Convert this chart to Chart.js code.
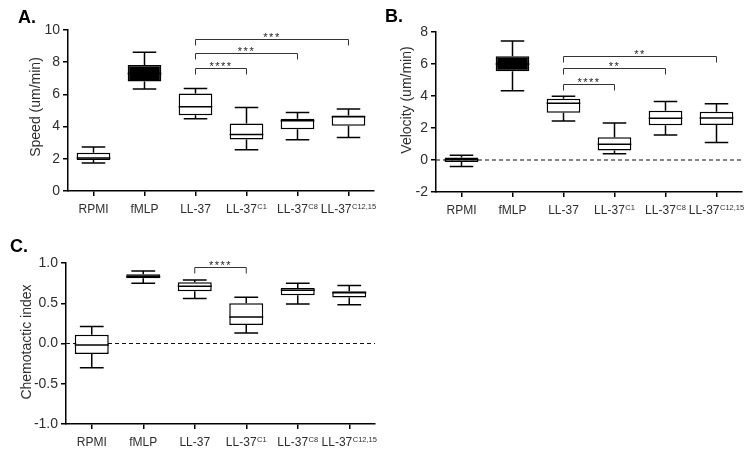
<!DOCTYPE html>
<html lang="en">
<head>
  <meta charset="UTF-8">
  <title>LL-37 chemotaxis box plots</title>
  <script src="https://cdn.jsdelivr.net/npm/chart.js@4.4.1/dist/chart.umd.min.js"></script>
  <style>
    * { margin: 0; padding: 0; }
    body { background: #fff; width: 754px; height: 454px; position: relative; overflow: hidden; }
    .panel { position: absolute; width: 377px; height: 227px; }
    #panelA { left: 0; top: 0; }
    #panelB { left: 377px; top: 0; }
    #panelC { left: 0; top: 227px; }
  </style>
</head>
<body>
  <div class="panel" id="panelA"><canvas id="speed" width="377" height="227"></canvas></div>
  <div class="panel" id="panelB"><canvas id="velocity" width="377" height="227"></canvas></div>
  <div class="panel" id="panelC"><canvas id="chemo" width="377" height="227"></canvas></div>

  <script>
    const FONT = '"Liberation Sans", Arial, sans-serif';
    const TEXT = '#2e2e2e';

    // groups on the x axis (base name + superscript)
    const groupNames = ['RPMI', 'fMLP', 'LL-37', 'LL-37', 'LL-37', 'LL-37'];
    const groupSup = ['', '', '', 'C1', 'C8', 'C12,15'];
    const categories = groupNames.map((n, i) => n + groupSup[i]);

    // A. speed (um/min)
    const speedMin = [1.74, 6.34, 4.48, 2.56, 3.18, 3.33];
    const speedQ1  = [1.92, 6.80, 4.71, 3.20, 3.84, 4.05];
    const speedMed = [2.05, 7.30, 5.23, 3.51, 4.36, 4.61];
    const speedQ3  = [2.38, 7.83, 6.05, 4.19, 4.48, 4.69];
    const speedMax = [2.73, 8.62, 6.36, 5.19, 4.88, 5.10];
    const speedSigTo = [3, 4, 5];
    const speedSigY = [7.67, 8.6, 9.42];
    const speedSigText = ['****', '***', '***'];

    // B. velocity (um/min)
    const velMin = [-0.40, 4.33, 2.44, 0.39, 1.57, 1.09];
    const velQ1  = [-0.13, 5.55, 2.96, 0.59, 2.17, 2.19];
    const velMed = [0.01, 6.00, 3.54, 0.99, 2.61, 2.63];
    const velQ3  = [0.16, 6.49, 3.83, 1.42, 3.08, 3.02];
    const velMax = [0.30, 7.44, 3.99, 2.32, 3.66, 3.52];
    const velSigTo = [3, 4, 5];
    const velSigY = [4.74, 5.72, 6.51];
    const velSigText = ['****', '**', '**'];

    // C. chemotactic index
    const ciMin = [-0.30, 0.75, 0.56, 0.13, 0.49, 0.48];
    const ciQ1  = [-0.13, 0.81, 0.65, 0.23, 0.60, 0.57];
    const ciMed = [-0.02, 0.83, 0.71, 0.33, 0.66, 0.63];
    const ciQ3  = [0.11, 0.86, 0.76, 0.50, 0.69, 0.65];
    const ciMax = [0.21, 0.90, 0.79, 0.575, 0.75, 0.72];
    const ciSigTo = [3];
    const ciSigY = [0.95];
    const ciSigText = ['****'];

    const SIG_FROM = 2; // all comparisons start at LL-37

    // whiskers, medians, brackets, dashed zero line, labels
    const boxExtras = {
      id: 'boxExtras',
      beforeDatasetsDraw(chart, args, o) {
        if (!o.zeroLine) return;
        const { ctx, chartArea: a } = chart;
        const py = chart.scales.y.getPixelForValue(0);
        ctx.save();
        ctx.strokeStyle = '#111';
        ctx.lineWidth = 1.2;
        ctx.setLineDash([4, 3]);
        ctx.beginPath();
        ctx.moveTo(a.left, py);
        ctx.lineTo(a.right, py);
        ctx.stroke();
        ctx.restore();
      },
      afterDatasetsDraw(chart, args, o) {
        const { ctx } = chart;
        const x = chart.scales.x, y = chart.scales.y;
        const meta = chart.getDatasetMeta(0);
        ctx.save();
        ctx.strokeStyle = '#000';
        ctx.lineWidth = 1.5;
        meta.data.forEach((bar, i) => {
          const cx = bar.x;
          const hw = bar.width / 2;
          const cap = bar.width * 0.35;
          const pMin = y.getPixelForValue(o.min[i]);
          const pMax = y.getPixelForValue(o.max[i]);
          const pQ1 = y.getPixelForValue(o.q1[i]);
          const pQ3 = y.getPixelForValue(o.q3[i]);
          const pMed = y.getPixelForValue(o.med[i]);
          ctx.beginPath();
          ctx.moveTo(cx, pQ3); ctx.lineTo(cx, pMax);
          ctx.moveTo(cx - cap, pMax); ctx.lineTo(cx + cap, pMax);
          ctx.moveTo(cx, pQ1); ctx.lineTo(cx, pMin);
          ctx.moveTo(cx - cap, pMin); ctx.lineTo(cx + cap, pMin);
          ctx.moveTo(cx - hw, pMed); ctx.lineTo(cx + hw, pMed);
          ctx.stroke();
        });

        // significance brackets
        ctx.lineWidth = 1;
        ctx.strokeStyle = '#333';
        ctx.fillStyle = '#222';
        ctx.font = '11px ' + FONT;
        ctx.textAlign = 'center';
        ctx.textBaseline = 'alphabetic';
        ctx.letterSpacing = '1.5px';
        o.sigTo.forEach((to, k) => {
          const x1 = x.getPixelForValue(SIG_FROM);
          const x2 = x.getPixelForValue(to);
          const py = Math.round(y.getPixelForValue(o.sigY[k])) + 0.5;
          ctx.beginPath();
          ctx.moveTo(x1, py + 6); ctx.lineTo(x1, py);
          ctx.lineTo(x2, py); ctx.lineTo(x2, py + 6);
          ctx.stroke();
          ctx.fillText(o.sigText[k], (x1 + x2) / 2, py + 1.5);
        });
        ctx.restore();
      },
      afterDraw(chart, args, o) {
        const { ctx, chartArea: a } = chart;
        const x = chart.scales.x;
        ctx.save();
        ctx.fillStyle = TEXT;
        ctx.textBaseline = 'alphabetic';
        ctx.textAlign = 'left';
        // x labels with superscripts
        categories.forEach((c, i) => {
          ctx.font = '12px ' + FONT;
          const wBase = ctx.measureText(groupNames[i]).width;
          ctx.font = '7.5px ' + FONT;
          const wSup = groupSup[i] ? ctx.measureText(groupSup[i]).width + 0.5 : 0;
          const left = x.getPixelForValue(i) - (wBase + wSup) / 2;
          const base = a.bottom + 22;
          ctx.font = '12px ' + FONT;
          ctx.fillText(groupNames[i], left, base);
          if (groupSup[i]) {
            ctx.font = '7.5px ' + FONT;
            ctx.fillText(groupSup[i], left + wBase + 0.5, base - 4.5);
          }
        });
        // y axis title
        ctx.save();
        ctx.translate(o.titleX, o.titleY);
        ctx.rotate(-Math.PI / 2);
        ctx.textAlign = 'center';
        ctx.textBaseline = 'middle';
        ctx.font = '14px ' + FONT;
        ctx.fillText(o.title, 0, 0);
        ctx.restore();
        // panel letter
        ctx.fillStyle = '#000';
        ctx.font = 'bold 18px ' + FONT;
        ctx.fillText(o.letter, o.letterX, o.letterY);
        ctx.restore();
      }
    };

    function makePanel(id, p) {
      return new Chart(document.getElementById(id), {
        type: 'bar',
        data: {
          labels: categories,
          datasets: [{
            data: p.q1.map((v, i) => [v, p.q3[i]]),
            backgroundColor: categories.map((c, i) => i === 1 ? '#000' : '#fff'),
            borderColor: '#000',
            borderWidth: 1.5,
            borderSkipped: false,
            barPercentage: 0.66,
            categoryPercentage: 1
          }]
        },
        options: {
          responsive: false,
          animation: false,
          layout: { padding: { left: 0, right: p.right, top: p.top, bottom: 0 } },
          plugins: {
            legend: { display: false },
            tooltip: { enabled: false },
            boxExtras: p
          },
          scales: {
            x: {
              offset: true,
              grid: { drawOnChartArea: false, offset: false, color: '#000', lineWidth: 1.5, tickLength: 5 },
              border: { color: '#000', width: 1.5 },
              ticks: { display: false },
              afterFit: (s) => { s.height = p.xHeight; }
            },
            y: {
              min: p.yMin,
              max: p.yMax,
              grid: { drawOnChartArea: false, color: '#000', lineWidth: 1.5, tickLength: 5 },
              border: { color: '#000', width: 1.5 },
              ticks: {
                stepSize: p.step,
                padding: 3,
                color: TEXT,
                font: { family: FONT, size: 14 },
                callback: p.fmt
              },
              afterFit: (s) => { s.width = p.axisX; }
            }
          }
        },
        plugins: [boxExtras]
      });
    }

    makePanel('speed', {
      min: speedMin, q1: speedQ1, med: speedMed, q3: speedQ3, max: speedMax,
      sigTo: speedSigTo, sigY: speedSigY, sigText: speedSigText,
      yMin: 0, yMax: 10, step: 2, fmt: (v) => v,
      zeroLine: false, title: 'Speed (um/min)', titleX: 36, titleY: 107,
      letter: 'A.', letterX: 18, letterY: 23,
      axisX: 68, right: 3, top: 30, xHeight: 36
    });

    makePanel('velocity', {
      min: velMin, q1: velQ1, med: velMed, q3: velQ3, max: velMax,
      sigTo: velSigTo, sigY: velSigY, sigText: velSigText,
      yMin: -2, yMax: 8, step: 2, fmt: (v) => v,
      zeroLine: true, title: 'Velocity (um/min)', titleX: 30, titleY: 100,
      letter: 'B.', letterX: 8, letterY: 22,
      axisX: 59, right: 12, top: 32, xHeight: 35
    });

    makePanel('chemo', {
      min: ciMin, q1: ciQ1, med: ciMed, q3: ciQ3, max: ciMax,
      sigTo: ciSigTo, sigY: ciSigY, sigText: ciSigText,
      yMin: -1, yMax: 1, step: 0.5, fmt: (v) => v.toFixed(1),
      zeroLine: true, title: 'Chemotactic index', titleX: 27, titleY: 115,
      letter: 'C.', letterX: 10, letterY: 25,
      axisX: 66, right: 2, top: 36, xHeight: 30
    });
  </script>
</body>
</html>
